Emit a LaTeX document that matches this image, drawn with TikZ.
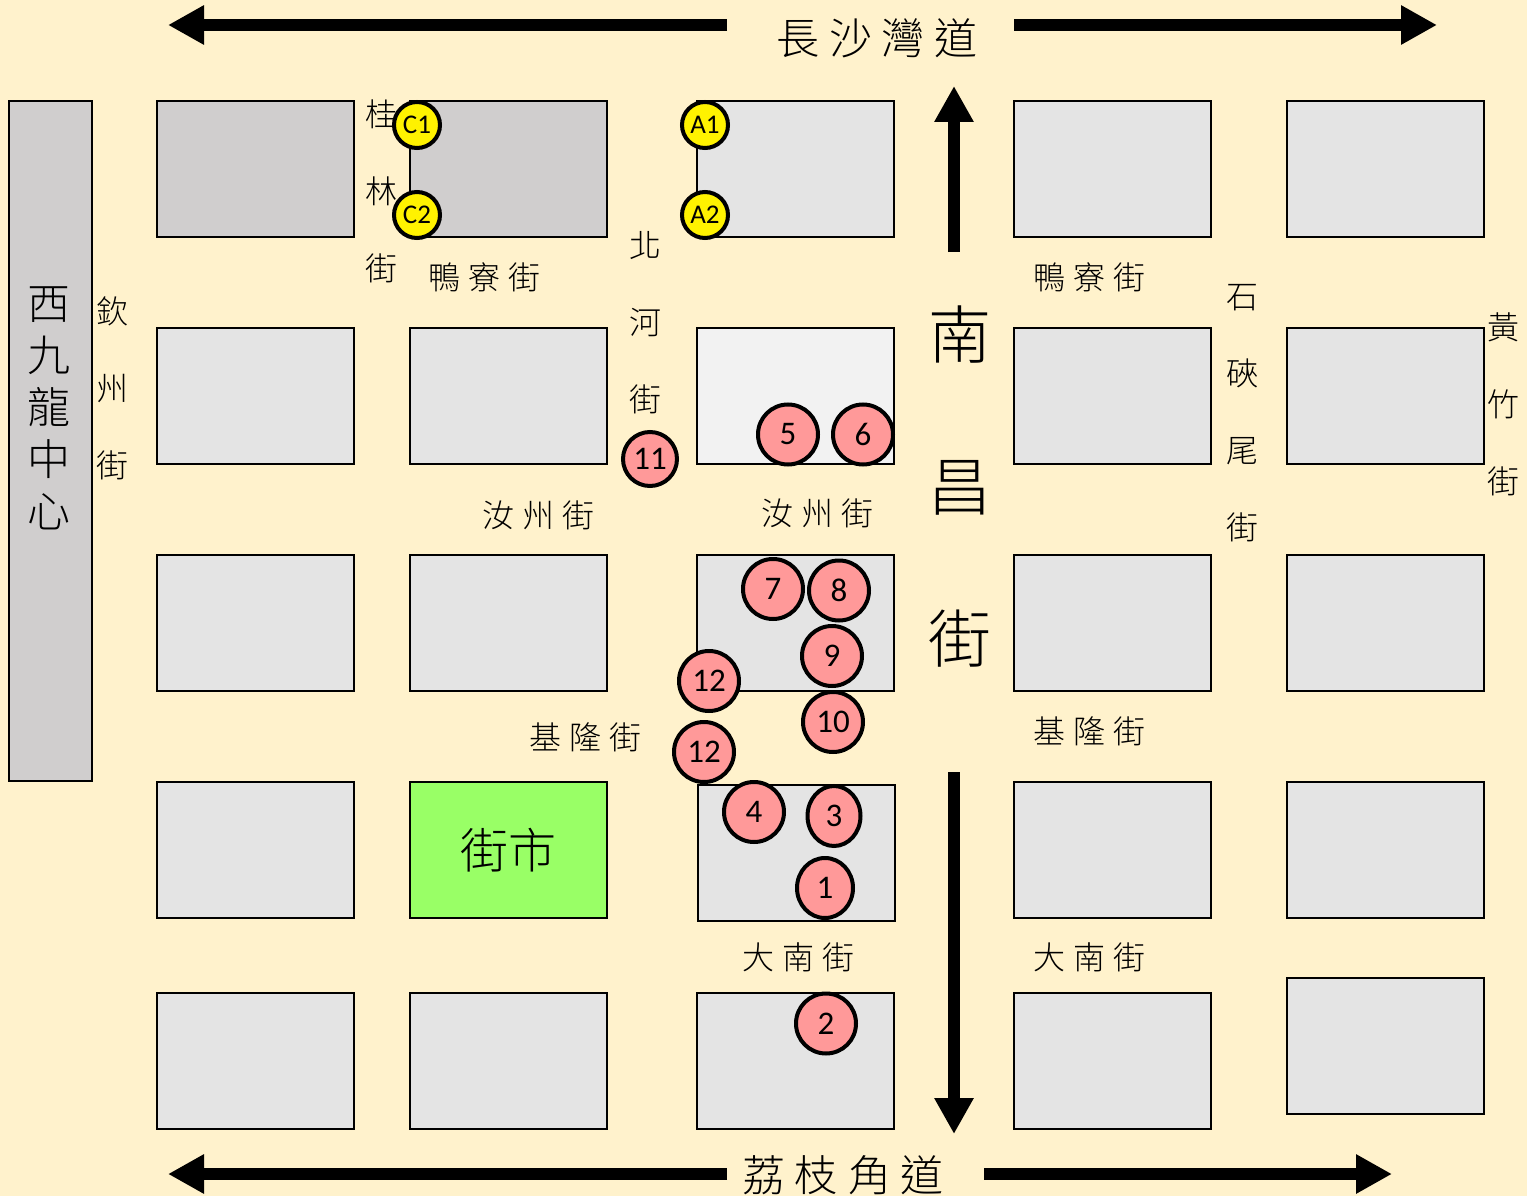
\documentclass[tikz,border=0pt]{standalone}
\usepackage{fontspec}
\setmainfont{Carlito}
\newfontfamily\cjk{Noto Sans CJK TC Light}
\usetikzlibrary{arrows.meta,shapes.geometric}
\definecolor{bgc}{HTML}{FFF2CC}
\definecolor{blockc}{HTML}{E4E4E4}
\definecolor{darkc}{HTML}{D0CECE}
\definecolor{lightc}{HTML}{F2F2F2}
\definecolor{greenc}{HTML}{99FF66}
\definecolor{pinkc}{HTML}{FF9999}
\def\gp{\hskip 8pt}
\def\gq{\hskip 10pt}
\tikzset{
  block/.style={draw=black,line width=2.5pt,fill=blockc,rectangle,inner sep=0pt,outer sep=0pt,anchor=north west,minimum width=197pt,minimum height=136pt},
  darkblock/.style={block,fill=darkc},
  lightblock/.style={block,fill=lightc},
  greenblock/.style={block,fill=greenc},
  street/.style={font=\cjk\fontsize{32}{77}\selectfont,align=center,inner sep=0pt,text=black},
  road/.style={font=\cjk\fontsize{43}{52}\selectfont,align=center,inner sep=0pt,text=black},
  bigroad/.style={font=\cjk\fontsize{63}{152}\selectfont,align=center,inner sep=0pt},
  stop/.style={circle,draw=black,line width=4pt,fill=pinkc,inner sep=0pt,minimum size=60pt,font=\fontsize{33}{33}\selectfont},
  ostop/.style={ellipse,draw=black,line width=4pt,fill=pinkc,inner sep=0pt,font=\fontsize{33}{33}\selectfont},
  exitc/.style={circle,draw=black,line width=4pt,fill=yellow,inner sep=0pt,minimum size=46pt,font=\fontsize{27}{27}\selectfont},
  fat/.style={line width=12pt,-{Triangle[length=36pt,width=37pt]}}
}
\begin{document}
\begin{tikzpicture}[x=1pt,y=-1pt]
\useasboundingbox (0,0) rectangle (1527,1196);
\fill[bgc] (0,0) rectangle (1527,1196);
% left bar
\node[darkblock,minimum width=83pt,minimum height=680pt] (bar) at (9,101) {};
% blocks
\node[darkblock] (b11) at (157,101) {};
\node[darkblock] (b12) at (410,101) {};
\node[block] (b13) at (697,101) {};
\node[block] (b14) at (1014,101) {};
\node[block] (b15) at (1287,101) {};
\node[block] (b21) at (157,328) {};
\node[block] (b22) at (410,328) {};
\node[lightblock] (b23) at (697,328) {};
\node[block] (b24) at (1014,328) {};
\node[block] (b25) at (1287,328) {};
\node[block] (b31) at (157,555) {};
\node[block] (b32) at (410,555) {};
\node[block] (b33) at (697,555) {};
\node[block] (b34) at (1014,555) {};
\node[block] (b35) at (1287,555) {};
\node[block] (b41) at (157,782) {};
\node[greenblock,font=\cjk\fontsize{48}{48}\selectfont] (b42) at (410,782) {街市};
\node[block] (b43) at (698,785) {};
\node[block] (b44) at (1014,782) {};
\node[block] (b45) at (1287,782) {};
\node[block] (b51) at (157,993) {};
\node[block] (b52) at (410,993) {};
\node[block] (b53) at (697,993) {};
\node[block] (b54) at (1014,993) {};
\node[block] (b55) at (1287,978) {};
% arrows
\coordinate (t1a) at (727,25); \coordinate (t1b) at (168,25);
\coordinate (t2a) at (1014,25); \coordinate (t2b) at (1437,25);
\coordinate (v1a) at (954,252); \coordinate (v1b) at (954,86);
\coordinate (v2a) at (954,772); \coordinate (v2b) at (954,1134);
\coordinate (u1a) at (727,1174); \coordinate (u1b) at (168,1174);
\coordinate (u2a) at (984,1174); \coordinate (u2b) at (1392,1174);
\draw[fat] (t1a) -- (t1b);
\draw[fat] (t2a) -- (t2b);
\draw[fat] (v1a) -- (v1b);
\draw[fat] (v2a) -- (v2b);
\draw[fat] (u1a) -- (u1b);
\draw[fat] (u2a) -- (u2b);
% road labels
\node[road] (r1) at (877,38) {長\hskip 9.5pt 沙\hskip 9.5pt 灣\hskip 9.5pt 道};
\node[road] (r2) at (843,1175) {荔\gq 枝\gq 角\gq 道};
\node[road] (r3) at (49,408) {西\\九\\龍\\中\\心};
\node[bigroad] (r4) at (960,487) {南\\昌\\街};
% street labels
\node[street] (s1) at (484,277) {鴨\gp 寮\gp 街};
\node[street] (s2) at (1089,277) {鴨\gp 寮\gp 街};
\node[street] (s3) at (538,515) {汝\gp 州\gp 街};
\node[street] (s4) at (817,513) {汝\gp 州\gp 街};
\node[street] (s5) at (585,737) {基\gp 隆\gp 街};
\node[street] (s6) at (1089,731) {基\gp 隆\gp 街};
\node[street] (s7) at (798,957) {大\gp 南\gp 街};
\node[street] (s8) at (1089,957) {大\gp 南\gp 街};
\node[street] (s9) at (381,191) {桂\\林\\街};
\node[street] (s10) at (112,388) {欽\\州\\街};
\node[street] (s11) at (645,323) {北\\河\\街};
\node[street] (s12) at (1242,413) {石\\硤\\尾\\街};
\node[street] (s13) at (1503,404) {黃\\竹\\街};
% yellow exits
\node[exitc] (c1) at (417,125) {C1};
\node[exitc] (c2) at (417,215) {C2};
\node[exitc] (a1) at (705,125) {A1};
\node[exitc] (a2) at (705,215) {A2};
% stops
\node[stop] (p5) at (788,434.5) {5};
\node[stop] (p6) at (863,434.5) {6};
\node[stop,minimum size=54pt] (p11) at (650,459) {11};
\node[stop] (p7) at (773,589) {7};
\node[stop] (p8) at (839,590.5) {8};
\node[stop] (p9) at (832,656) {9};
\node[stop] (p12a) at (709,681) {12};
\node[stop] (p10) at (833,722) {10};
\node[stop] (p12b) at (704,752) {12};
\node[stop] (p4) at (754,812) {4};
\node[ostop,minimum width=53pt,minimum height=60pt] (p3) at (834,816) {3};
\node[ostop,minimum width=56pt,minimum height=60pt] (p1) at (825,888) {1};
\node[stop] (p2) at (826,1023.5) {2};
\end{tikzpicture}
\end{document}
